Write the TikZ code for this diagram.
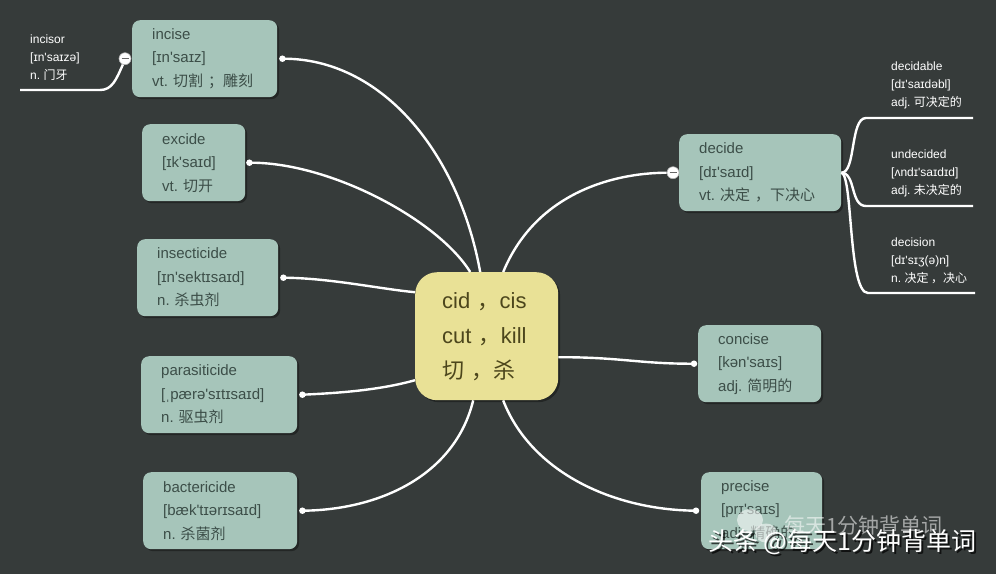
\documentclass[tikz,border=0pt]{standalone}
\usepackage{fontspec}
\setmainfont{Liberation Sans}
\newfontfamily\cjk{Noto Sans CJK SC}
\newcommand{\zh}[1]{{\cjk #1}}
\newcommand{\st}{\textquotesingle}
\usetikzlibrary{positioning, shadows}

\definecolor{bgdark}{RGB}{54,59,58}
\definecolor{boxgreen}{RGB}{166,197,186}
\definecolor{boxtext}{RGB}{60,78,72}
\definecolor{rootyellow}{RGB}{233,225,150}
\definecolor{roottext}{RGB}{76,70,28}

\tikzset{
  word/.style={anchor=north west, rounded corners=8pt, fill=boxgreen, text=boxtext,
    inner xsep=20pt, inner ysep=0pt, minimum height=77pt, align=left,
    font=\fontsize{15}{23.5}\selectfont,
    drop shadow={shadow xshift=2pt, shadow yshift=-2pt, opacity=0.35, fill=black}},
  leaf/.style={anchor=north west, inner sep=0pt, text=white, align=left,
    font=\fontsize{12}{17.8}\selectfont},
  link/.style={draw=white, line width=2.4pt},
  dot/.style={circle, fill=white, inner sep=0pt, minimum size=6.5pt},
  fold/.style={circle, fill=white, draw=gray!60, line width=0.6pt, inner sep=0pt, minimum size=12pt,
    path picture={\draw[gray!80!black, line width=1.3pt]
      ([xshift=2.5pt]path picture bounding box.west) -- ([xshift=-2.5pt]path picture bounding box.east);}},
}

\begin{document}
\begin{tikzpicture}[x=1pt, y=-1pt]
  \fill[bgdark] (0,0) rectangle (996,574);
  \useasboundingbox (0,0) rectangle (996,574);

  % root
  \node[anchor=north west, rounded corners=22pt, fill=rootyellow, text=roottext,
    minimum height=128pt, inner xsep=27pt, inner ysep=0pt, text width=89pt, align=left,
    font=\fontsize{22}{35}\selectfont,
    drop shadow={shadow xshift=2pt, shadow yshift=-2pt, opacity=0.35, fill=black}]
    (root) at (415,272) {cid~\zh{，}cis\\cut~\zh{，}kill\\\zh{切~，杀}};

  % words
  \node[word, text width=105pt] (incise) at (132,20) {incise\\{}[ɪn\st saɪz]\\vt.~\zh{切割~；雕刻}};
  \node[word, text width=63pt] (excide) at (142,124) {excide\\{}[ɪk\st saɪd]\\vt.~\zh{切开}};
  \node[word, text width=101pt] (insecticide) at (137,239) {insecticide\\{}[ɪn\st sektɪsaɪd]\\n.~\zh{杀虫剂}};
  \node[word, text width=116pt] (parasiticide) at (141,356) {parasiticide\\{}[ˌpærə\st sɪtɪsaɪd]\\n.~\zh{驱虫剂}};
  \node[word, text width=114pt] (bactericide) at (143,472) {bactericide\\{}[bæk\st tɪərɪsaɪd]\\n.~\zh{杀菌剂}};
  \node[word, text width=122pt] (decide) at (679,134) {decide\\{}[dɪ\st saɪd]\\vt.~\zh{决定~，下决心}};
  \node[word, text width=83pt] (concise) at (698,325) {concise\\{}[kən\st saɪs]\\adj.~\zh{简明的}};
  \node[word, text width=81pt] (precise) at (701,472) {precise\\{}[prɪ\st saɪs]\\adj.~\zh{精确的}};

  % leaves
  \node[leaf] (incisor) at (30,35) {incisor\\{}[ɪn\st saɪzə]\\n.~\zh{门牙}};
  \node[leaf] (decidable) at (891,62) {decidable\\{}[dɪ\st saɪdəbl]\\adj.~\zh{可决定的}};
  \node[leaf] (undecided) at (891,150) {undecided\\{}[ʌndɪ\st saɪdɪd]\\adj.~\zh{未决定的}};
  \node[leaf] (decision) at (891,238) {decision\\{}[dɪ\st sɪʒ(ə)n]\\n.~\zh{决定~，决心}};

  \coordinate (uincisor) at (20,90);
  \coordinate (udecidable) at (973,118);
  \coordinate (uundecided) at (973,206);
  \coordinate (udecision) at (975,293);

  % dots and folds
  \node[dot] (dincise) at ([xshift=5pt]incise.east) {};
  \node[dot] (dexcide) at ([xshift=4pt]excide.east) {};
  \node[dot] (dinsecticide) at ([xshift=5pt]insecticide.east) {};
  \node[dot] (dparasiticide) at ([xshift=5pt]parasiticide.east) {};
  \node[dot] (dbactericide) at ([xshift=5pt]bactericide.east) {};
  \node[dot] (dconcise) at ([xshift=-4pt]concise.west) {};
  \node[dot] (dprecise) at ([xshift=-5pt]precise.west) {};
  \node[fold] (fincise) at ([xshift=-7pt]incise.west) {};
  \node[fold] (fdecide) at ([xshift=-6pt]decide.west) {};

  % links
  \draw[link] ([xshift=-6.5pt]root.north) .. controls (458,150) and (380,58) .. (dincise.center);
  \draw[link] ([xshift=-16.5pt]root.north) .. controls (438,220) and (330,162) .. (dexcide.center);
  \draw[link] ([yshift=44pt]root.west) .. controls (380,289) and (330,278) .. (dinsecticide.center);
  \draw[link] ([yshift=-44pt]root.west) .. controls (380,390) and (340,393) .. (dparasiticide.center);
  \draw[link] ([xshift=-13.5pt]root.south) .. controls (455,475) and (380,510) .. (dbactericide.center);
  \draw[link] ([xshift=16.5pt]root.north) .. controls (535,195) and (610,173) .. (fdecide.west);
  \draw[link] ([yshift=-21pt]root.east) .. controls (620,357) and (640,364) .. (dconcise.center);
  \draw[link] ([xshift=16.5pt]root.south) .. controls (530,470) and (610,510) .. (dprecise.center);

  \draw[link] (fincise.250) .. controls (116,80) and (112,90) .. (100,90) -- (uincisor);
  \draw[link] (decide.east) .. controls (856,173) and (850,118) .. (866,118) -- (udecidable);
  \draw[link] (decide.east) .. controls (856,173) and (850,206) .. (866,206) -- (uundecided);
  \draw[link] (decide.east) .. controls (853,175) and (848,293) .. (868,293) -- (udecision);

  % watermark
  \fill[white, opacity=0.55] (750,520) ellipse (13 and 11);
  \fill[white, opacity=0.55] (766,533) ellipse (11 and 9.5);
  \node[anchor=base west, inner sep=0pt, text=white, opacity=0.55,
    font=\cjk\fontsize{21}{21}\selectfont] (wmfaint) at (784,533) {每天1分钟背单词};
  \node[anchor=base west, inner sep=0pt, text=black, opacity=0.7,
    font=\cjk\fontsize{25}{25}\selectfont] (wmshadow) at (710,552) {头条 @每天1分钟背单词};
  \node[anchor=base west, inner sep=0pt, text=white,
    font=\cjk\fontsize{25}{25}\selectfont] (wm) at (708,550) {头条 @每天1分钟背单词};
\end{tikzpicture}
\end{document}
